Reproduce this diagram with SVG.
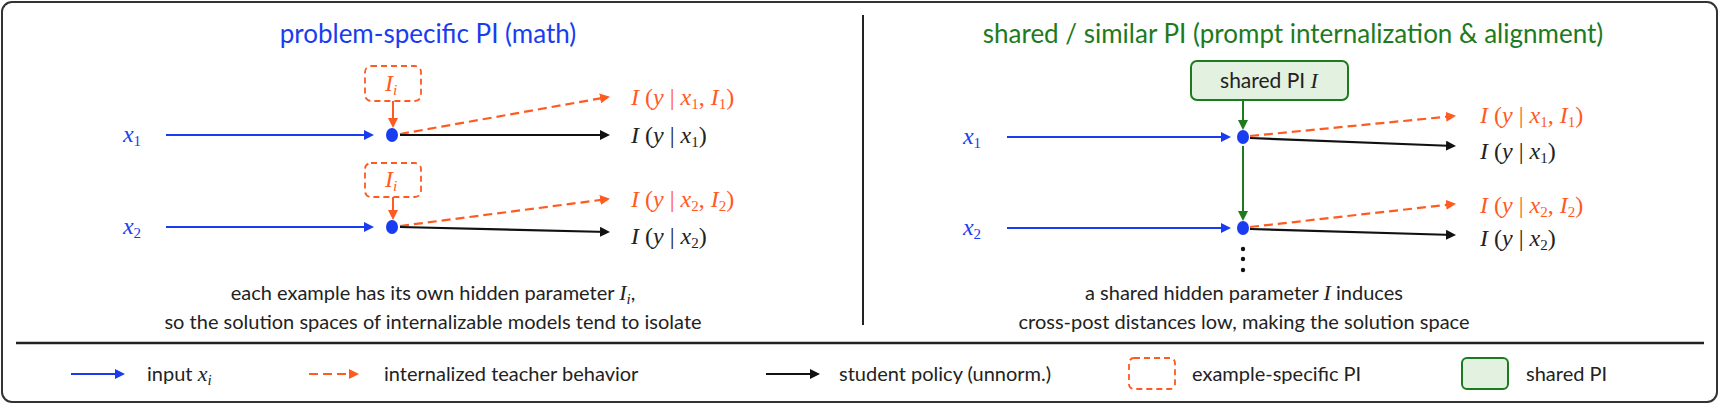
<svg xmlns="http://www.w3.org/2000/svg" width="1720" height="405" viewBox="0 0 1720 405">
<style>
.t{font-family:Lato,"Liberation Sans",sans-serif;font-size:20px;fill:#222}
.c{font-size:20px}
.m{font-family:"Liberation Serif",serif;font-style:italic;font-size:24px}
.n{font-style:normal}
.s{font-size:15px}
.b{fill:#1a3cf0}.o{fill:#ff5a1f}.k{fill:#222}.g{fill:#1e7a1e}
.lb{stroke:#1a3cf0;stroke-width:2.2;fill:none}
.lo{stroke:#ff5a1f;stroke-width:2.2;fill:none;stroke-dasharray:9 5}
.lk{stroke:#111;stroke-width:2.2;fill:none}
.lg{stroke:#1e7a1e;stroke-width:2;fill:none}
</style>
<defs>
<marker id="ab" markerWidth="10" markerHeight="10" refX="8" refY="5" orient="auto" markerUnits="userSpaceOnUse"><path d="M0,0L10,5L0,10z" fill="#1a3cf0"/></marker>
<marker id="ao" markerWidth="10" markerHeight="10" refX="8" refY="5" orient="auto" markerUnits="userSpaceOnUse"><path d="M0,0L10,5L0,10z" fill="#ff5a1f"/></marker>
<marker id="ak" markerWidth="10" markerHeight="10" refX="8" refY="5" orient="auto" markerUnits="userSpaceOnUse"><path d="M0,0L10,5L0,10z" fill="#111"/></marker>
<marker id="ag" markerWidth="10" markerHeight="10" refX="8" refY="5" orient="auto" markerUnits="userSpaceOnUse"><path d="M0,0L10,5L0,10z" fill="#1e7a1e"/></marker>
</defs>
<rect x="2" y="2" width="1715" height="400" rx="10" fill="#fff" stroke="#333" stroke-width="2"/>
<line x1="863" y1="15" x2="863" y2="325" stroke="#222" stroke-width="2"/>
<line x1="16" y1="343" x2="1704" y2="343" stroke="#222" stroke-width="2.5"/>
<text x="428" y="43" text-anchor="middle" class="t b" style="font-size:26px">problem-specific PI (math)</text>
<text x="1293" y="43" text-anchor="middle" class="t g" style="font-size:26px">shared / similar PI (prompt internalization &amp; alignment)</text>

<g id="connectors">
<line x1="166" y1="135" x2="372" y2="135" class="lb" marker-end="url(#ab)"/>
<line x1="166" y1="227" x2="372" y2="227" class="lb" marker-end="url(#ab)"/>
<line x1="393" y1="101" x2="393" y2="126" stroke="#ff5a1f" stroke-width="2" marker-end="url(#ao)"/>
<line x1="393" y1="197" x2="393" y2="218" stroke="#ff5a1f" stroke-width="2" marker-end="url(#ao)"/>
<line x1="400" y1="134" x2="608" y2="97" class="lo" marker-end="url(#ao)"/>
<line x1="400" y1="135" x2="608" y2="135" class="lk" marker-end="url(#ak)"/>
<line x1="400" y1="226" x2="608" y2="199" class="lo" marker-end="url(#ao)"/>
<line x1="400" y1="227" x2="608" y2="232" class="lk" marker-end="url(#ak)"/>
<line x1="1007" y1="137" x2="1229" y2="137" class="lb" marker-end="url(#ab)"/>
<line x1="1007" y1="228" x2="1229" y2="228" class="lb" marker-end="url(#ab)"/>
<line x1="1243" y1="100" x2="1243" y2="128" class="lg" marker-end="url(#ag)"/>
<line x1="1243" y1="146" x2="1243" y2="219" class="lg" marker-end="url(#ag)"/>
<line x1="1250" y1="136" x2="1454" y2="116" class="lo" marker-end="url(#ao)"/>
<line x1="1250" y1="138" x2="1454" y2="146" class="lk" marker-end="url(#ak)"/>
<line x1="1250" y1="227" x2="1454" y2="204" class="lo" marker-end="url(#ao)"/>
<line x1="1250" y1="229" x2="1454" y2="235" class="lk" marker-end="url(#ak)"/>
</g>

<g id="left-nodes">
<text x="132" y="142" text-anchor="middle" class="m b">x<tspan class="n s" dy="4">1</tspan></text>
<text x="132" y="234" text-anchor="middle" class="m b">x<tspan class="n s" dy="4">2</tspan></text>
<g id="Ii1"><rect x="365" y="66" width="56" height="35" rx="6" fill="#fff" stroke="#ff5a1f" stroke-width="1.8" stroke-dasharray="6 4"/><text x="391" y="91" text-anchor="middle" class="m o">I<tspan class="s" dy="4">i</tspan></text></g>
<g id="Ii2"><rect x="365" y="163" width="56" height="34" rx="6" fill="#fff" stroke="#ff5a1f" stroke-width="1.8" stroke-dasharray="6 4"/><text x="391" y="187" text-anchor="middle" class="m o">I<tspan class="s" dy="4">i</tspan></text></g>
<ellipse id="dot1" cx="392" cy="135" rx="6" ry="7" fill="#1a3cf0"/>
<ellipse id="dot2" cx="392" cy="227" rx="6" ry="7" fill="#1a3cf0"/>
<text x="631" y="105" class="m o">I <tspan class="n">(</tspan>y <tspan class="n">| </tspan>x<tspan class="n s" dy="4">1</tspan><tspan class="n" dy="-4">, </tspan>I<tspan class="n s" dy="4">1</tspan><tspan class="n" dy="-4">)</tspan></text>
<text x="631" y="143" class="m k">I <tspan class="n">(</tspan>y <tspan class="n">| </tspan>x<tspan class="n s" dy="4">1</tspan><tspan class="n" dy="-4">)</tspan></text>
<text x="631" y="207" class="m o">I <tspan class="n">(</tspan>y <tspan class="n">| </tspan>x<tspan class="n s" dy="4">2</tspan><tspan class="n" dy="-4">, </tspan>I<tspan class="n s" dy="4">2</tspan><tspan class="n" dy="-4">)</tspan></text>
<text x="631" y="244" class="m k">I <tspan class="n">(</tspan>y <tspan class="n">| </tspan>x<tspan class="n s" dy="4">2</tspan><tspan class="n" dy="-4">)</tspan></text>
<text x="433" y="300" text-anchor="middle" class="t c">each example has its own hidden parameter <tspan class="m" style="font-size:22px">I</tspan><tspan class="m s" dy="4">i</tspan><tspan dy="-4">,</tspan></text>
<text x="433" y="329" text-anchor="middle" class="t c">so the solution spaces of internalizable models tend to isolate</text>
</g>

<g id="right-nodes">
<text x="972" y="144" text-anchor="middle" class="m b">x<tspan class="n s" dy="4">1</tspan></text>
<text x="972" y="235" text-anchor="middle" class="m b">x<tspan class="n s" dy="4">2</tspan></text>
<g id="sharedPI"><rect x="1191" y="61" width="157" height="39" rx="6" fill="#e3f1e0" stroke="#1e7a1e" stroke-width="2"/><text x="1269" y="88" text-anchor="middle" class="t" style="font-size:21px">shared PI <tspan class="m" style="font-size:22px">I</tspan></text></g>
<ellipse cx="1243" cy="137" rx="6" ry="7" fill="#1a3cf0"/>
<ellipse cx="1243" cy="228" rx="6" ry="7" fill="#1a3cf0"/>
<circle cx="1243" cy="249" r="2.2" fill="#111"/><circle cx="1243" cy="259" r="2.2" fill="#111"/><circle cx="1243" cy="270" r="2.2" fill="#111"/>
<text x="1480" y="123" class="m o">I <tspan class="n">(</tspan>y <tspan class="n">| </tspan>x<tspan class="n s" dy="4">1</tspan><tspan class="n" dy="-4">, </tspan>I<tspan class="n s" dy="4">1</tspan><tspan class="n" dy="-4">)</tspan></text>
<text x="1480" y="159" class="m k">I <tspan class="n">(</tspan>y <tspan class="n">| </tspan>x<tspan class="n s" dy="4">1</tspan><tspan class="n" dy="-4">)</tspan></text>
<text x="1480" y="213" class="m o">I <tspan class="n">(</tspan>y <tspan class="n">| </tspan>x<tspan class="n s" dy="4">2</tspan><tspan class="n" dy="-4">, </tspan>I<tspan class="n s" dy="4">2</tspan><tspan class="n" dy="-4">)</tspan></text>
<text x="1480" y="246" class="m k">I <tspan class="n">(</tspan>y <tspan class="n">| </tspan>x<tspan class="n s" dy="4">2</tspan><tspan class="n" dy="-4">)</tspan></text>
<text x="1244" y="300" text-anchor="middle" class="t c">a shared hidden parameter <tspan class="m" style="font-size:22px">I</tspan> induces</text>
<text x="1244" y="329" text-anchor="middle" class="t c">cross-post distances low, making the solution space</text>
</g>

<g id="legend">
<line x1="71" y1="374" x2="123" y2="374" class="lb" marker-end="url(#ab)"/>
<text x="147" y="381" class="t">input <tspan class="m" style="font-size:22px">x</tspan><tspan class="m s" dy="4">i</tspan></text>
<line x1="309" y1="374" x2="357" y2="374" class="lo" marker-end="url(#ao)"/>
<text x="384" y="381" class="t">internalized teacher behavior</text>
<line x1="766" y1="374" x2="818" y2="374" class="lk" marker-end="url(#ak)"/>
<text x="839" y="381" class="t">student policy (unnorm.)</text>
<rect x="1129" y="358" width="46" height="31" rx="5" fill="#fff" stroke="#ff5a1f" stroke-width="1.8" stroke-dasharray="6 4"/>
<text x="1192" y="381" class="t">example-specific PI</text>
<rect x="1462" y="358" width="46" height="31" rx="5" fill="#e3f1e0" stroke="#1e7a1e" stroke-width="2"/>
<text x="1526" y="381" class="t">shared PI</text>
</g>
</svg>
